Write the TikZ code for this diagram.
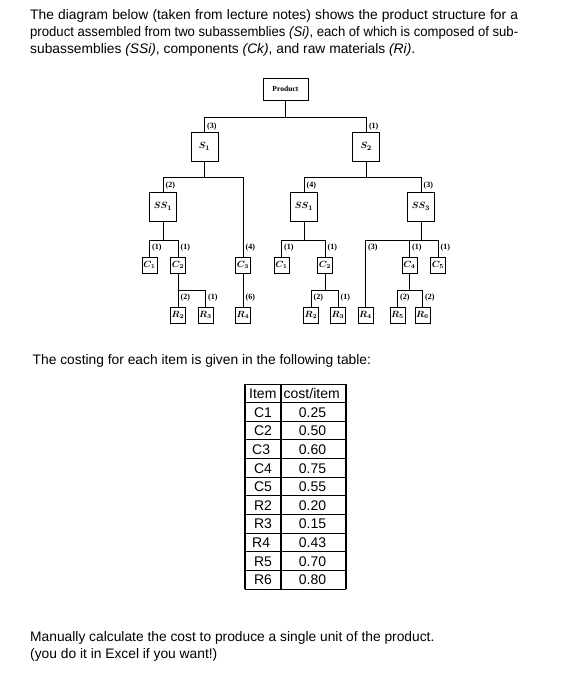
\documentclass[tikz,border=0pt]{standalone}
\usepackage{fontspec}
\setmainfont{Liberation Sans}
\newfontfamily\bookfont{Liberation Serif}
\usetikzlibrary{calc}
\newcommand\fullline[1]{\makebox[488pt][s]{#1}}
\newcommand\squeezeline[1]{\resizebox{488pt}{\height}{#1}}
\begin{document}
\begin{tikzpicture}[x=1pt,y=-1pt,
        body/.style={inner sep=0pt,anchor=base west,font=\fontsize{13.8}{16.5}\selectfont},
        part/.style={draw,line width=1pt,inner sep=0pt,minimum width=15pt,minimum height=16pt,font=\fontsize{9}{9}\selectfont\boldmath},
        assy/.style={part,minimum width=27pt,minimum height=29pt,font=\fontsize{9.5}{9.5}\selectfont\boldmath},
        topbox/.style={part,minimum width=45pt,minimum height=22pt,font=\bookfont\bfseries\fontsize{7.6}{8}\selectfont},
        qty/.style={inner sep=0pt,anchor=west,font=\bookfont\bfseries\fontsize{8}{8}\selectfont},
        link/.style={line width=1pt},
        rule/.style={line width=1pt},
        cell/.style={inner sep=0pt,font=\fontsize{14}{14}\selectfont}]
        \useasboundingbox (0,0) rectangle (563,677);
        % text
        \node[body] (intro1) at (30,20) {\fullline{The diagram below (taken from lecture notes) shows the product structure for a}};
        \node[body] (intro2) at (30,36.5) {\squeezeline{product assembled from two subassemblies \textit{(Si)}, each of which is composed of sub-}};
        \node[body] (intro3) at (30,53) {subassemblies \textit{(SSi)}, components \textit{(Ck)}, and raw materials \textit{(Ri)}.};
        \node[body] (costing) at (32.5,364.3) {The costing for each item is given in the following table:};
        \node[body] (ask1) at (30,641) {Manually calculate the cost to produce a single unit of the product.};
        \node[body] (ask2) at (30,658) {(you do it in Excel if you want!)};
        % product structure
        \node[topbox] (prod) at (285.5,89) {Product};
        \node[assy] (S1) at (204.5,146.5) {$S_1$};
        \node[assy] (S2) at (366.3,146.5) {$S_2$};
        \node[assy] (SSa) at (163,206.5) {$SS_1$};
        \node[assy] (SSb) at (304,206.5) {$SS_1$};
        \node[assy] (SSc) at (421,206.5) {$SS_3$};
        \foreach \n/\x/\t in {C1a/149.5/C_1,C2a/178/C_2,C3/243/C_3,C1b/281.5/C_1,C2b/325/C_2,C4/409.5/C_4,C5/438/C_5}
            \node[part] (\n) at (\x,265) {$\t$};
        \foreach \n/\x/\t in {R2a/178/R_2,R3a/205.5/R_3,R4a/243/R_4,R2b/311/R_2,R3b/338/R_3,R4b/365.5/R_4,R5/397.5/R_5,R6/422.5/R_6}
            \node[part] (\n) at (\x,315) {$\t$};
        \coordinate (barP) at (285.5,117);
        \coordinate (barS1) at (204.5,177);
        \coordinate (barS2) at (366.3,177);
        \coordinate (barSSa) at (163,240);
        \coordinate (barSSb) at (304,240);
        \coordinate (barSSc) at (421,240);
        \coordinate (barC2a) at (178,290);
        \coordinate (barC2b) at (325,290);
        \coordinate (barC4) at (409.5,290);
        \draw[link] (prod.south) -- (barP);
        \foreach \c in {S1,S2} \draw[link] (barP) -| (\c.north);
        \draw[link] (S1.south) -- (barS1);
        \foreach \c in {SSa,C3} \draw[link] (barS1) -| (\c.north);
        \draw[link] (S2.south) -- (barS2);
        \foreach \c in {SSb,SSc} \draw[link] (barS2) -| (\c.north);
        \draw[link] (SSa.south) -- (barSSa);
        \foreach \c in {C1a,C2a} \draw[link] (barSSa) -| (\c.north);
        \draw[link] (SSb.south) -- (barSSb);
        \foreach \c in {C1b,C2b} \draw[link] (barSSb) -| (\c.north);
        \draw[link] (SSc.south) -- (barSSc);
        \foreach \c in {R4b,C4,C5} \draw[link] (barSSc) -| (\c.north);
        \draw[link] (C2a.south) -- (barC2a);
        \foreach \c in {R2a,R3a} \draw[link] (barC2a) -| (\c.north);
        \draw[link] (C2b.south) -- (barC2b);
        \foreach \c in {R2b,R3b} \draw[link] (barC2b) -| (\c.north);
        \draw[link] (C4.south) -- (barC4);
        \foreach \c in {R5,R6} \draw[link] (barC4) -| (\c.north);
        \draw[link] (C3.south) -- (R4a.north);
        % quantities
        \foreach \n/\q/\dy in {S1/3/5,S2/1/5,SSa/2/6,SSb/4/6,SSc/3/6,C1a/1/8.5,C2a/1/8.5,C3/4/9,C1b/1/8.5,C2b/1/8.5,C4/1/8.5,C5/1/8.5,R2a/2/9,R3a/1/9,R4a/6/9,R2b/2/9,R3b/1/9,R4b/3/59,R5/2/9,R6/2/9}
            \node[qty] (q\n) at ($(\n.north)+(2.5,-\dy)$) {(\q)};
        % cost table
        \foreach \k in {0,...,11} \draw[rule] (245,{384+18.64*\k}) -- (346,{384+18.64*\k});
        \foreach \x in {245,281,346} \draw[rule,line width=1.6pt] (\x,384) -- (\x,589);
        \node[cell,anchor=base west] (hItem) at (249,398.5) {Item};
        \node[cell,anchor=base west] (hCost) at (283.5,398.5) {cost/item};
        \foreach \t/\c/\x/\a [count=\r] in {C1/0.25/263/base,C2/0.50/263/base,C3/0.60/252/base west,C4/0.75/263/base,C5/0.55/263/base,R2/0.20/263/base,R3/0.15/263/base,R4/0.43/252/base west,R5/0.70/263/base,R6/0.80/263/base} {
            \node[cell,anchor=\a] (item\r) at (\x,{384+18.64*\r+14.5}) {\t};
            \node[cell,anchor=base] (cost\r) at (312.5,{384+18.64*\r+14.5}) {\c};
        }
\end{tikzpicture}
\end{document}
